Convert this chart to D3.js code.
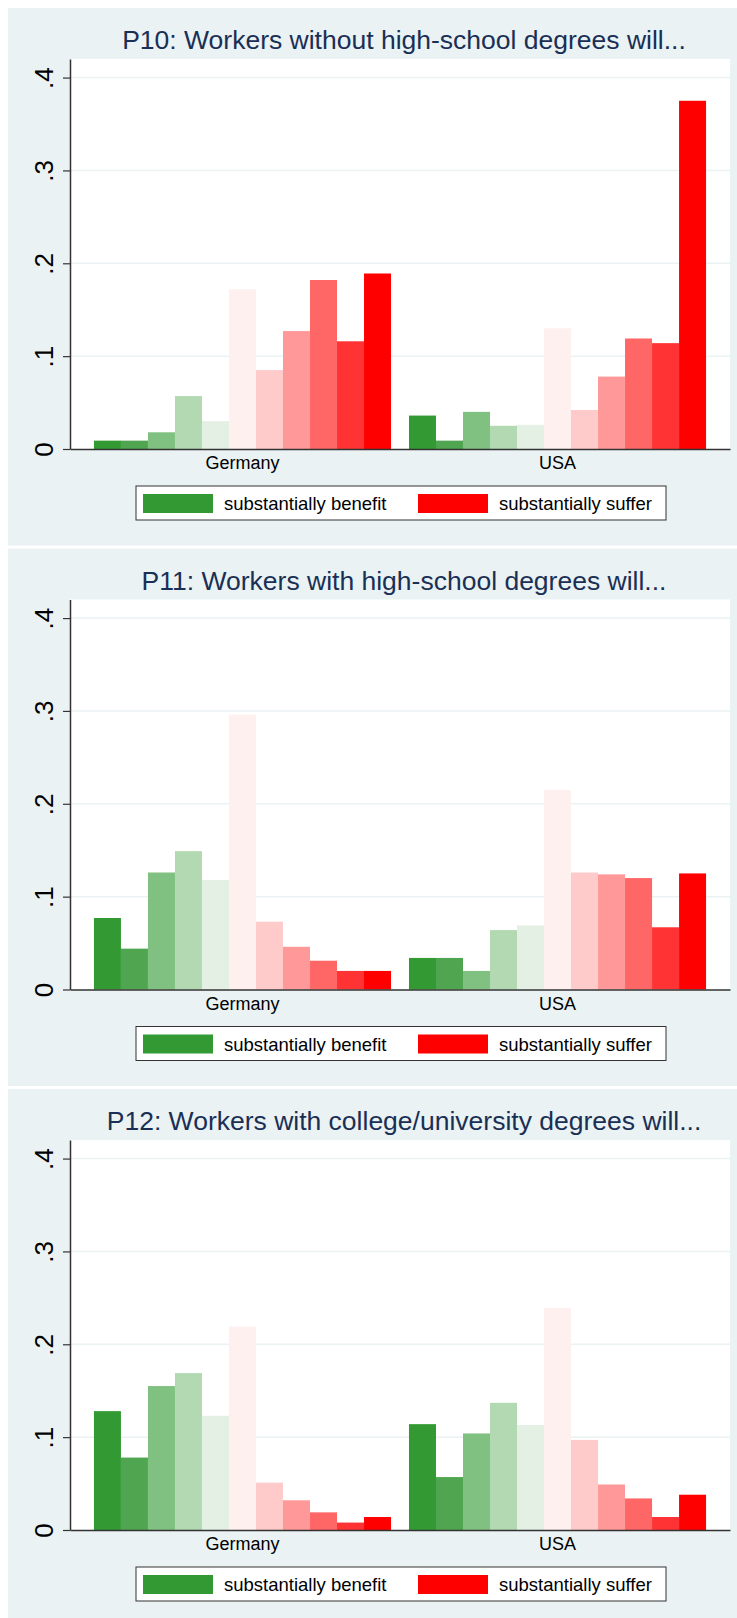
<!DOCTYPE html>
<html>
<head>
<meta charset="utf-8">
<script src="https://cdn.jsdelivr.net/npm/d3@7"></script>
<style>
body { margin: 0; background: #fff; overflow: hidden; }
svg { display: block; font-family: "Liberation Sans", Arial, sans-serif; }
</style>
</head>
<body>
<svg id="chart" width="737" height="1618"></svg>
<script>
// categories
var countries = ["Germany", "USA"];
var levels = ["1", "2", "3", "4", "5", "6", "7", "8", "9", "10", "11"];
var levelColors = ["#339933", "#50a550", "#80c080", "#b3d9b3", "#e5f0e5",
                   "#fff0f0", "#ffcaca", "#ff9999", "#ff6666", "#ff3333", "#ff0000"];

var titles = [
    "P10: Workers without high-school degrees will...",
    "P11: Workers with high-school degrees will...",
    "P12: Workers with college/university degrees will..."
];

// shares per answer level
var p10Germany = [0.009, 0.009, 0.018, 0.057, 0.030, 0.172, 0.085, 0.127, 0.182, 0.116, 0.189];
var p10USA     = [0.036, 0.009, 0.040, 0.025, 0.026, 0.130, 0.042, 0.078, 0.119, 0.114, 0.375];
var p11Germany = [0.077, 0.044, 0.126, 0.149, 0.118, 0.296, 0.073, 0.046, 0.031, 0.020, 0.020];
var p11USA     = [0.034, 0.034, 0.020, 0.064, 0.069, 0.215, 0.126, 0.124, 0.120, 0.067, 0.125];
var p12Germany = [0.128, 0.078, 0.155, 0.169, 0.123, 0.219, 0.051, 0.032, 0.019, 0.008, 0.014];
var p12USA     = [0.114, 0.057, 0.104, 0.137, 0.113, 0.239, 0.097, 0.049, 0.034, 0.014, 0.038];

var yTicks = [0, 0.1, 0.2, 0.3, 0.4];
var yTickLabels = ["0", ".1", ".2", ".3", ".4"];
var legendLabels = ["substantially benefit", "substantially suffer"];
var legendColors = ["#339933", "#ff0000"];

var panels = [
    { title: titles[0], values: { Germany: p10Germany, USA: p10USA } },
    { title: titles[1], values: { Germany: p11Germany, USA: p11USA } },
    { title: titles[2], values: { Germany: p12Germany, USA: p12USA } }
];

var svg = d3.select("#chart");
var panelStep = 540.5;

var x0 = d3.scaleBand().domain(countries).range([70, 730])
    .paddingInner(0.057).paddingOuter(0.076);
var x1 = d3.scaleBand().domain(levels).range([0, x0.bandwidth()]);
var y = d3.scaleLinear().domain([0, 0.42]).range([449, 59]);

panels.forEach(function(p, i) {
    var g = svg.append("g").attr("transform", "translate(0," + (i * panelStep) + ")");

    g.append("rect").attr("x", 8).attr("y", 8).attr("width", 729).attr("height", 537.5)
        .attr("fill", "#eaf2f3");
    g.append("rect").attr("x", 70).attr("y", 59).attr("width", 660).attr("height", 390)
        .attr("fill", "#fff");

    g.append("text").attr("x", 404).attr("y", 49)
        .attr("text-anchor", "middle")
        .attr("font-size", "26.5px")
        .attr("fill", "#1a2f55")
        .text(p.title);

    // gridlines
    g.selectAll(".grid").data(yTicks.slice(1)).enter().append("line")
        .attr("x1", 70).attr("x2", 730)
        .attr("y1", function(d) { return y(d); })
        .attr("y2", function(d) { return y(d); })
        .attr("stroke", "#eaf2f3").attr("stroke-width", 1.5);

    // bars
    var groups = g.selectAll(".country").data(countries).enter().append("g")
        .attr("transform", function(c) { return "translate(" + x0(c) + ",0)"; });
    groups.selectAll("rect").data(function(c) {
            return p.values[c].map(function(v, k) { return { level: levels[k], value: v, k: k }; });
        }).enter().append("rect")
        .attr("x", function(d) { return x1(d.level); })
        .attr("width", x1.bandwidth())
        .attr("y", function(d) { return y(d.value); })
        .attr("height", function(d) { return y(0) - y(d.value); })
        .attr("fill", function(d) { return levelColors[d.k]; });

    // y axis
    var yAxis = g.append("g").attr("transform", "translate(70,0)")
        .call(d3.axisLeft(y).tickValues(yTicks)
            .tickFormat(function(d, k) { return yTickLabels[k]; })
            .tickSize(7).tickSizeOuter(0));
    yAxis.select(".domain").attr("stroke", "#333").attr("stroke-width", 1.5);
    yAxis.selectAll(".tick line").attr("stroke", "#333").attr("stroke-width", 1.2);
    yAxis.selectAll(".tick text")
        .attr("transform", "rotate(-90)")
        .attr("x", 0).attr("y", -17).attr("dy", 0)
        .attr("text-anchor", "middle")
        .attr("font-size", "26px")
        .attr("fill", "#000");

    // x axis
    var xAxis = g.append("g").attr("transform", "translate(0,449)")
        .call(d3.axisBottom(x0).tickSize(0).tickSizeOuter(0));
    xAxis.select(".domain").attr("stroke", "#333").attr("stroke-width", 1.5);
    xAxis.selectAll(".tick text")
        .attr("y", 20).attr("dy", 0)
        .attr("font-size", "18px")
        .attr("fill", "#000");

    // legend
    var lg = g.append("g");
    lg.append("rect").attr("x", 136).attr("y", 486).attr("width", 530).attr("height", 34)
        .attr("fill", "#fff").attr("stroke", "#333").attr("stroke-width", 1);
    var lx = [143, 418];
    legendLabels.forEach(function(lab, k) {
        lg.append("rect").attr("x", lx[k]).attr("y", 494).attr("width", 70).attr("height", 19)
            .attr("fill", legendColors[k]);
        lg.append("text").attr("x", lx[k] + 81).attr("y", 510)
            .attr("font-size", "18.5px").attr("fill", "#000")
            .text(lab);
    });
});
</script>
</body>
</html>
